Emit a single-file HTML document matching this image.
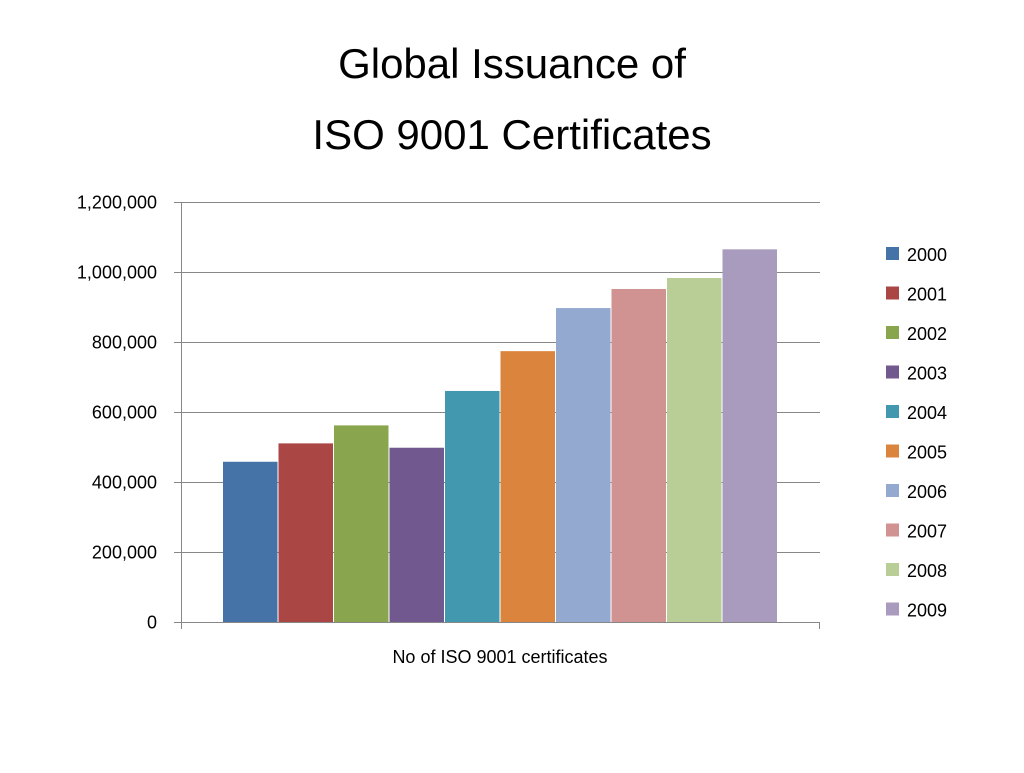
<!DOCTYPE html>
<html><head><meta charset="utf-8"><style>
body{margin:0;background:#fff;}
svg text{font-family:"Liberation Sans",sans-serif;fill:#000;}
</style></head><body>
<svg width="1024" height="768" viewBox="0 0 1024 768">
<text x="512" y="78" text-anchor="middle" font-size="42">Global Issuance of</text>
<text x="512" y="149" text-anchor="middle" font-size="42">ISO 9001 Certificates</text>
<g id="grid"></g>
<g id="bars"></g>
<g id="axes"></g>
<g id="legend"></g>
<text x="500" y="663" text-anchor="middle" font-size="18">No of ISO 9001 certificates</text>
</svg>
<script>
const years = ["2000","2001","2002","2003","2004","2005","2006","2007","2008","2009"];
const values = [457834,510349,561747,497919,660132,773867,896929,951486,982832,1064785];
const tickValues = [0,200000,400000,600000,800000,1000000,1200000];
const tickLabels = ["0","200,000","400,000","600,000","800,000","1,000,000","1,200,000"];
const colors = ["#4572A7","#AA4643","#89A54E","#71588F","#4198AF","#DB843D","#93A9CF","#D19392","#B9CD96","#A99BBD"];
const NS="http://www.w3.org/2000/svg";
const x0=181,x1=820,yTop=202,yBot=622,yMax=1200000;
const y=v=>yBot-(v/yMax)*(yBot-yTop);
const barStart=223,barEnd=778,bw=(barEnd-barStart)/years.length;
function mk(tag,attrs,parent){const e=document.createElementNS(NS,tag);for(const k in attrs)e.setAttribute(k,attrs[k]);parent.appendChild(e);return e;}
const grid=document.getElementById('grid'),axes=document.getElementById('axes'),bars=document.getElementById('bars'),legend=document.getElementById('legend');
tickValues.forEach((v,i)=>{
  const yy=Math.round(y(v))+0.5;
  if(v>0){const g=mk('line',{x1:x0,x2:x1,y1:yy,y2:yy,stroke:'#878787','stroke-width':1},grid);
  
  }
  const t=mk('line',{x1:x0-7,x2:x0,y1:yy,y2:yy,stroke:'#878787'},axes);
  
  
  const l=mk('text',{x:157,y:yy+6,'text-anchor':'end','font-size':18},axes);
  l.textContent=tickLabels[i];
  
  
});
const ya=mk('line',{x1:x0+0.5,x2:x0+0.5,y1:yTop,y2:yBot,stroke:'#878787'},axes);


const xa=mk('line',{x1:x0,x2:x1,y1:yBot+0.5,y2:yBot+0.5,stroke:'#878787'},axes);


[x0+0.5,x1-0.5].forEach(xx=>{const t=mk('line',{x1:xx,x2:xx,y1:yBot,y2:yBot+7,stroke:'#878787'},axes);

});
values.forEach((v,i)=>{
  const b=mk('rect',{x:barStart+i*bw,y:y(v),width:bw-1,height:yBot-y(v),fill:colors[i]},bars);
  
  
});
years.forEach((yr,i)=>{
  const cy=254+i*39.5;
  const s=mk('rect',{x:886,y:cy-7,width:13,height:13,fill:colors[i]},legend);
  
  
  const t=mk('text',{x:907,y:cy+7,'font-size':18},legend);
  t.textContent=yr;
  
  
});
</script>
</body></html>
